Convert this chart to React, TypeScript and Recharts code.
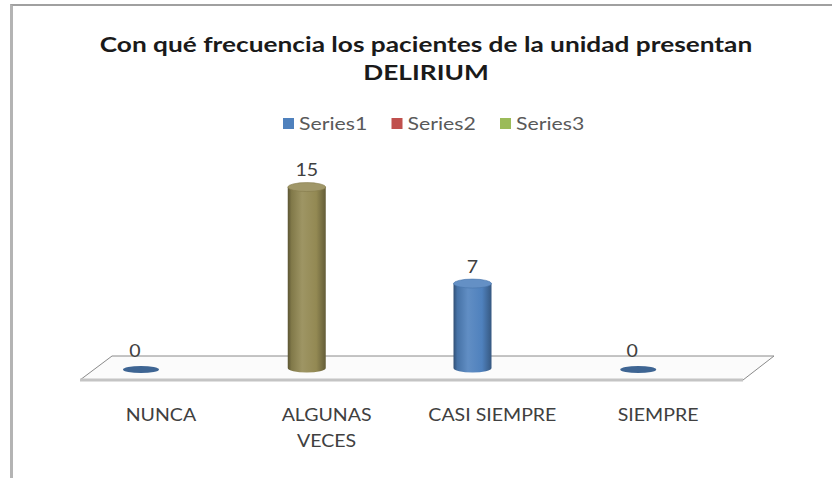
import React from 'react';
import { BarChart, Bar, XAxis, YAxis, Legend, LabelList, ReferenceLine, Cell } from 'recharts';

const titleLines = ['Con qué frecuencia los pacientes de la unidad presentan', 'DELIRIUM'];
const categories = ['NUNCA', 'ALGUNAS VECES', 'CASI SIEMPRE', 'SIEMPRE'];
const tickLabelLines = [['NUNCA'], ['ALGUNAS', 'VECES'], ['CASI SIEMPRE'], ['SIEMPRE']];
const series1Values = [0, 15, 7, 0];
const barColors = ['#4F81BD', '#938953', '#4F81BD', '#4F81BD'];
const legendNames = ['Series1', 'Series2', 'Series3'];
const legendColors = ['#4F81BD', '#C0504D', '#9BBB59'];

const data = categories.map((name, i) => ({ name, value: series1Values[i] }));

const FONT = "Lato, 'Open Sans', sans-serif";
const W = 832;
const H = 478;
const MARGIN = { top: 175, right: 111, bottom: 0, left: 58 };
const Y_DOMAIN: [number, number] = [0, 16];

function hexToRgb(h: string) {
  const v = h.replace('#', '');
  return [parseInt(v.slice(0, 2), 16), parseInt(v.slice(2, 4), 16), parseInt(v.slice(4, 6), 16)];
}
function mix(a: string, b: string, t: number) {
  const ca = hexToRgb(a);
  const cb = hexToRgb(b);
  const r = ca.map((c, i) => Math.round(c * (1 - t) + cb[i] * t));
  return `rgb(${r[0]},${r[1]},${r[2]})`;
}

const Cylinder = (props: any) => {
  const { x, y, width, height, index, fill } = props;
  const c = fill || barColors[index];
  const rx = width / 2;
  const cx = x + rx;
  const ry = 4.5;
  const base = y + height;
  const gid = `cyl-grad-${index}`;
  if (!height || Math.abs(height) < 1) {
    return <ellipse cx={cx} cy={base + 1.5} rx={rx - 1} ry={3.6} fill={mix(c, '#000000', 0.22)} />;
  }
  return (
    <g>
      <defs>
        <linearGradient id={gid} x1="0" y1="0" x2="1" y2="0">
          <stop offset="0%" stopColor={mix(c, '#000000', 0.38)} />
          <stop offset="10%" stopColor={mix(c, '#000000', 0.12)} />
          <stop offset="38%" stopColor={mix(c, '#ffffff', 0.1)} />
          <stop offset="75%" stopColor={c} />
          <stop offset="100%" stopColor={mix(c, '#000000', 0.32)} />
        </linearGradient>
      </defs>
      <path
        d={`M${x},${y} L${x},${base} A${rx},${ry} 0 0 0 ${x + width},${base} L${x + width},${y} Z`}
        fill={`url(#${gid})`}
      />
      <ellipse cx={cx} cy={y} rx={rx} ry={ry} fill={mix(c, '#ffffff', 0.12)} stroke={mix(c, '#000000', 0.1)} strokeWidth={0.6} />
    </g>
  );
};

const ValueLabel = (props: any) => {
  const { x, y, width, value } = props;
  const cx = x + width / 2 + (value === 0 ? -6 : 0);
  return (
    <text transform={`translate(${cx} ${y - 11}) scale(1.15 1)`} textAnchor="middle" fontSize={17} fill="#404040" fontFamily={FONT}>
      {value}
    </text>
  );
};

const Floor = (props: any) => {
  const { x1, y1, x2 } = props;
  const back = y1 - 12;
  const front = y1 + 12;
  const pts = `${x1 + 54},${back} ${x2 + 53},${back} ${x2 + 22},${front} ${x1 + 22},${front}`;
  return (
    <g>
      <polygon points={pts} fill="#fbfbfb" stroke="none" />
      <polyline points={`${x1 + 22},${front} ${x1 + 54},${back} ${x2 + 53},${back} ${x2 + 22},${front}`} fill="none" stroke="#8a8a8a" strokeWidth={1} />
      <line x1={x1 + 22} y1={front} x2={x2 + 22} y2={front} stroke="#c4c4c4" strokeWidth={3} />
    </g>
  );
};

const CategoryTick = (props: any) => {
  const { x, y, payload } = props;
  const lines = tickLabelLines[payload.index] || [payload.value];
  return (
    <g>
      {lines.map((ln: string, k: number) => (
        <text
          key={k}
          transform={`translate(${x + 20} ${y + 45 + k * 26}) scale(1.15 1)`}
          textAnchor="middle"
          fontSize={17}
          fill="#404040"
          fontFamily={FONT}
        >
          {ln}
        </text>
      ))}
    </g>
  );
};

const LegendContent = () => (
  <svg width={W} height={30} style={{ display: 'block' }}>
    {legendNames.map((n, i) => {
      const lx = 283 + i * 108.5;
      return (
        <g key={n}>
          <rect x={lx} y={7} width={11} height={11} fill={legendColors[i]} />
          <text transform={`translate(${lx + 16} 19) scale(1.25 1)`} fontSize={17} fill="#595959" fontFamily={FONT}>
            {n}
          </text>
        </g>
      );
    })}
  </svg>
);

export default function App() {
  return (
    <div style={{ position: 'absolute', left: 0, top: 0, width: W, height: H, background: '#ffffff', overflow: 'hidden' }}>
      <div
        style={{
          position: 'absolute',
          left: 10,
          top: 4,
          width: W,
          height: H,
          borderLeft: '3px solid #b4b4b4',
          borderTop: '2px solid #a0a0a0',
          boxSizing: 'border-box',
        }}
      />
      <svg width={W} height={100} style={{ position: 'absolute', left: 0, top: 0 }}>
        {titleLines.map((t, i) => (
          <text
            key={i}
            transform={`translate(426 ${52 + i * 28}) scale(1.25 1)`}
            textAnchor="middle"
            fontSize={21}
            fontWeight={700}
            fill="#1a1a1a"
            fontFamily={FONT}
          >
            {t}
          </text>
        ))}
      </svg>
      {/* floor layer: same layout as the bar chart, drawn underneath */}
      <div style={{ position: 'absolute', left: 0, top: 0 }}>
        <BarChart width={W} height={H} data={data} margin={MARGIN}>
          <YAxis hide domain={Y_DOMAIN} />
          <XAxis dataKey="name" axisLine={false} tickLine={false} height={110} interval={0} tick={false} />
          <Bar dataKey="value" barSize={38} fill="transparent" fillOpacity={0} isAnimationActive={false} />
          <ReferenceLine y={0} ifOverflow="extendDomain" shape={(p: any) => <Floor {...p} />} />
        </BarChart>
      </div>
      <div style={{ position: 'absolute', left: 0, top: 0 }}>
        <BarChart width={W} height={H} data={data} margin={MARGIN}>
          <YAxis hide domain={Y_DOMAIN} />
          <XAxis dataKey="name" axisLine={false} tickLine={false} height={110} interval={0} tick={<CategoryTick />} />
          <Legend
            verticalAlign="middle"
            content={() => <LegendContent />}
            wrapperStyle={{ top: 111, left: 0, width: W, height: 30 }}
          />
          <Bar dataKey="value" name="Series1" barSize={38} isAnimationActive={false} shape={(p: any) => <Cylinder {...p} />}>
            {data.map((d, i) => (
              <Cell key={d.name} fill={barColors[i]} />
            ))}
            <LabelList dataKey="value" content={(p: any) => <ValueLabel {...p} />} />
          </Bar>
        </BarChart>
      </div>
    </div>
  );
}
